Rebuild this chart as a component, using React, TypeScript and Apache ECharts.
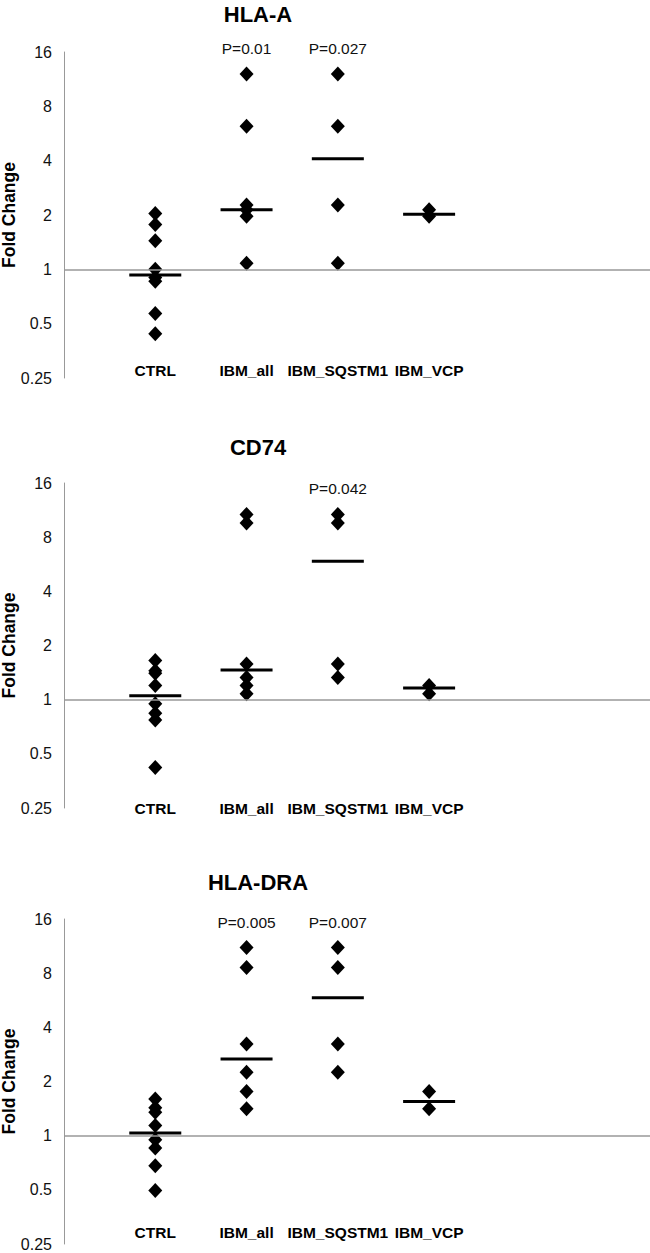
import React, { useEffect, useRef } from "react";
import * as echarts from "echarts";

const categories = ["CTRL", "IBM_all", "IBM_SQSTM1", "IBM_VCP"];
const panelTitles = ["HLA-A", "CD74", "HLA-DRA"];
const yAxisName = "Fold Change";

// HLA-A
const hlaA_CTRL = [2.04, 1.77, 1.44, 1.0, 0.9, 0.86, 0.57, 0.44];
const hlaA_IBMall = [12.1, 6.2, 2.27, 2.14, 1.97, 1.08];
const hlaA_SQSTM1 = [12.1, 6.2, 2.27, 1.08];
const hlaA_VCP = [2.14, 1.97];
const hlaA_medians = [0.93, 2.14, 4.1, 2.02];
const hlaA_pValues = ["", "P=0.01", "P=0.027", ""];

// CD74
const cd74_CTRL = [1.65, 1.45, 1.4, 1.2, 0.95, 0.84, 0.77, 0.42];
const cd74_IBMall = [10.7, 9.6, 1.58, 1.33, 1.2, 1.08];
const cd74_SQSTM1 = [10.7, 9.6, 1.58, 1.33];
const cd74_VCP = [1.2, 1.08];
const cd74_medians = [1.05, 1.46, 5.88, 1.16];
const cd74_pValues = ["", "", "P=0.042", ""];

// HLA-DRA
const dra_CTRL = [1.6, 1.43, 1.35, 1.14, 0.95, 0.855, 0.68, 0.495];
const dra_IBMall = [11.1, 8.6, 3.23, 2.25, 1.76, 1.41];
const dra_SQSTM1 = [11.1, 8.6, 3.23, 2.25];
const dra_VCP = [1.76, 1.41];
const dra_medians = [1.035, 2.67, 5.85, 1.55];
const dra_pValues = ["", "P=0.005", "P=0.007", ""];

const panels = [
  { groups: [hlaA_CTRL, hlaA_IBMall, hlaA_SQSTM1, hlaA_VCP], medians: hlaA_medians, pValues: hlaA_pValues },
  { groups: [cd74_CTRL, cd74_IBMall, cd74_SQSTM1, cd74_VCP], medians: cd74_medians, pValues: cd74_pValues },
  { groups: [dra_CTRL, dra_IBMall, dra_SQSTM1, dra_VCP], medians: dra_medians, pValues: dra_pValues },
];

const FONT = "'Liberation Sans', Arial, sans-serif";
const gridTops = [52, 483, 919];
const gridHeights = [326, 325, 325];
const titleYs = [14, 447, 882];
const catLabelMargins = [0, -8, 4];

export default function App() {
  const ref = useRef<HTMLDivElement>(null);
  useEffect(() => {
    if (!ref.current) return;
    const chart = echarts.init(ref.current, null, { renderer: "svg" });
    const grid: any[] = [];
    const xAxis: any[] = [];
    const yAxis: any[] = [];
    const series: any[] = [];
    const graphic: any[] = [];
    panels.forEach((p, i) => {
      grid.push({
        left: 64,
        right: 0,
        top: gridTops[i],
        height: gridHeights[i],
        containLabel: false,
        outerBoundsMode: "none",
      });
      xAxis.push({
        gridIndex: i,
        type: "value",
        min: 0,
        max: 6.42,
        interval: 1,
        axisLine: { show: false },
        axisTick: { show: false },
        splitLine: { show: false },
        axisLabel: {
          inside: true,
          margin: catLabelMargins[i],
          fontFamily: FONT,
          fontSize: 15.5,
          fontWeight: "bold",
          color: "#000",
          formatter: (v: number) => categories[Math.round(v) - 1] || "",
        },
      });
      yAxis.push({
        gridIndex: i,
        type: "log",
        logBase: 2,
        min: 0.25,
        max: 16,
        name: yAxisName,
        nameLocation: "middle",
        nameRotate: 90,
        nameGap: 46,
        nameMoveOverlap: false,
        nameTextStyle: { fontFamily: FONT, fontSize: 17.5, fontWeight: "bold", color: "#000" },
        axisLine: { show: true, lineStyle: { color: "#999", width: 1 } },
        axisTick: { show: false },
        splitLine: { show: false },
        axisLabel: {
          margin: 12,
          fontFamily: FONT,
          fontSize: 16,
          color: "#111",
          formatter: (v: number) => String(+Number(v).toPrecision(6)),
        },
      });
      const pts: number[][] = [];
      p.groups.forEach((g, gi) => g.forEach((v) => pts.push([gi + 1, v])));
      series.push({
        type: "scatter",
        xAxisIndex: i,
        yAxisIndex: i,
        symbol: "diamond",
        symbolSize: [14, 15],
        itemStyle: { color: "#000", opacity: 1 },
        data: pts,
        silent: true,
        markLine: {
          silent: true,
          symbol: "none",
          label: { show: false },
          lineStyle: { color: "#999", width: 1.5, type: "solid", opacity: 1 },
          data: [{ yAxis: 1 }],
        },
        z: 3,
      });
      series.push({
        type: "scatter",
        xAxisIndex: i,
        yAxisIndex: i,
        symbol: "rect",
        symbolSize: [52, 3],
        itemStyle: { color: "#000", opacity: 1 },
        data: p.medians.map((m, gi) => [gi + 1, m]),
        silent: true,
        z: 4,
      });
      const pData: any[] = [];
      p.pValues.forEach((lab, gi) => {
        if (lab) pData.push({ value: [gi + 1, Math.max(...p.groups[gi])], name: lab });
      });
      series.push({
        type: "scatter",
        xAxisIndex: i,
        yAxisIndex: i,
        symbol: "circle",
        symbolSize: 1,
        itemStyle: { color: "rgba(0,0,0,0)", opacity: 1 },
        clip: false,
        silent: true,
        data: pData,
        label: {
          show: true,
          position: "top",
          distance: 17,
          formatter: (d: any) => d.name,
          fontFamily: FONT,
          fontSize: 15.5,
          color: "#111",
          opacity: 1,
        },
      });
      graphic.push({
        type: "text",
        x: 258,
        y: titleYs[i],
        style: {
          text: panelTitles[i],
          align: "center",
          verticalAlign: "middle",
          font: `bold 22px ${FONT}`,
          fill: "#000",
        },
      });
    });
    chart.setOption({
      animation: false,
      backgroundColor: "#fff",
      grid,
      xAxis,
      yAxis,
      series,
      graphic,
    });
    return () => chart.dispose();
  }, []);
  return (
    <div
      ref={ref}
      style={{ position: "absolute", left: 0, top: 0, width: 650, height: 1253 }}
    />
  );
}
